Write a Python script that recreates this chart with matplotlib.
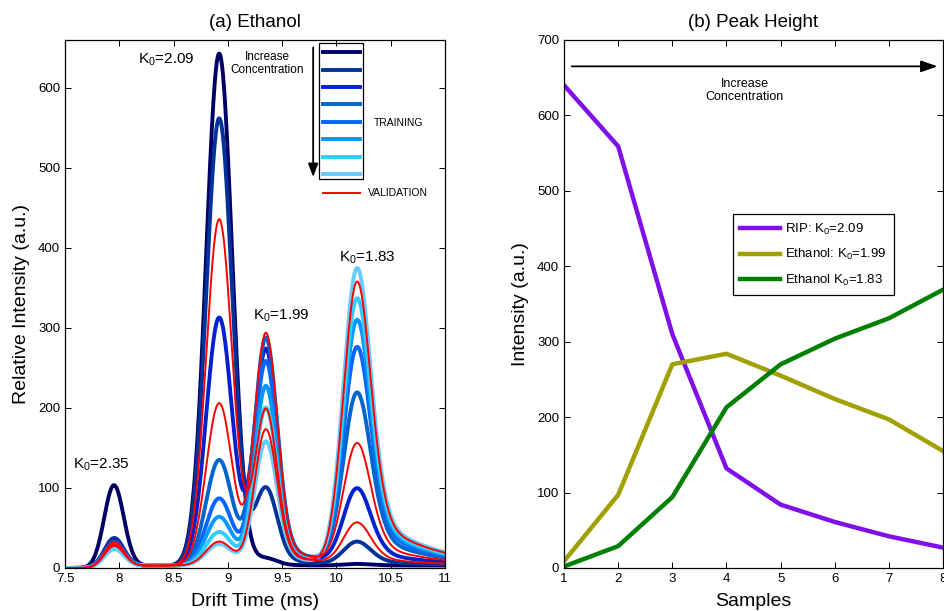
import numpy as np
import matplotlib
matplotlib.use('Agg')
import matplotlib.pyplot as plt
from matplotlib.patches import Rectangle
from matplotlib.lines import Line2D
from matplotlib.ticker import FormatStrFormatter

plt.rcParams['font.family'] = ['Liberation Sans', 'DejaVu Sans']
plt.rcParams['mathtext.fontset'] = 'custom'
plt.rcParams['mathtext.rm'] = 'Liberation Sans'
plt.rcParams['mathtext.it'] = 'Liberation Sans'

# peak positions (drift time, ms) of K0 = 2.35, 2.09 (RIP), 1.99, 1.83
peak_pos = [7.95, 8.92, 9.35, 10.19]

# peak heights of the 8 training spectra (samples 1..8)
samples = [1, 2, 3, 4, 5, 6, 7, 8]
train_k235 = [102, 36, 33, 31, 29, 27, 25, 22]
rip_209 = [640, 559, 310, 132, 84, 61, 42, 27]
eth_199 = [9, 97, 270, 284, 255, 224, 197, 155]
eth_183 = [2, 29, 94, 213, 270, 304, 331, 369]

# peak heights of the 3 validation spectra
val_k235 = [31, 28, 26]
val_rip = [433, 203, 30]
val_199 = [195, 290, 170]
val_183 = [52, 150, 352]

train_colors = ['#000066', '#003399', '#0022cc', '#0066cc',
                '#0066ff', '#0099ff', '#33ccff', '#66ccff']


def peak(x, h, c, sl, sr, tail=0.0, tau=0.5):
    g = np.where(x < c, np.exp(-0.5 * ((x - c) / sl) ** 2),
                 np.exp(-0.5 * ((x - c) / sr) ** 2))
    t = tail * np.exp(-(x - c) / tau) / (1 + np.exp(-(x - c - 0.2) / 0.05))
    return h * (g + t)


def spectrum(x, h235, h209, h199, h183):
    y = peak(x, h235, peak_pos[0], 0.09, 0.09)
    y += peak(x, h209, peak_pos[1], 0.12, 0.12)
    y += peak(x, h199, peak_pos[2], 0.105, 0.105, 0.15, 0.3)
    y += peak(x, h183, peak_pos[3], 0.125, 0.13, 0.23, 0.5)
    y += 3 / (1 + np.exp(-(x - 7.95) / 0.05))
    return y


drift = np.linspace(7.5, 11, 800)

fig = plt.figure(figsize=(9.44, 6.11), dpi=100)
ax1 = fig.add_axes([0.0689, 0.0704, 0.4025, 0.8642])
ax2 = fig.add_axes([0.5975, 0.0704, 0.4015, 0.8642])

for ax in (ax1, ax2):
    ax.tick_params(direction='in', top=True, right=True, labelsize=9.5,
                   length=4, width=0.7)
    for s in ax.spines.values():
        s.set_linewidth(0.9)

# ---- (a) Ethanol
for i in range(len(samples)):
    ax1.plot(drift, spectrum(drift, train_k235[i], rip_209[i], eth_199[i], eth_183[i]),
             color=train_colors[i], lw=2.8, solid_capstyle='round')
for i in range(len(val_rip)):
    ax1.plot(drift, spectrum(drift, val_k235[i], val_rip[i], val_199[i], val_183[i]),
             color='#ff0000', lw=1.4)

ax1.set_xlim(7.5, 11)
ax1.set_ylim(0, 660)
ax1.set_xticks(np.arange(7.5, 11.01, 0.5))
ax1.set_yticks(np.arange(0, 601, 100))
ax1.xaxis.set_major_formatter(FormatStrFormatter('%g'))
ax1.set_title('(a) Ethanol', fontsize=13.5, pad=9)
ax1.set_xlabel('Drift Time (ms)', fontsize=14, labelpad=6)
ax1.set_ylabel('Relative Intensity (a.u.)', fontsize=14, labelpad=6)

ax1.text(8.17, 635, 'K$_0$=2.09', fontsize=11, va='center')
ax1.text(7.57, 129, 'K$_0$=2.35', fontsize=11, va='center')
ax1.text(9.23, 315, 'K$_0$=1.99', fontsize=11, va='center')
ax1.text(10.02, 388, 'K$_0$=1.83', fontsize=11, va='center')

# hand-made legend box
ax1.add_patch(Rectangle((0.668, 0.737), 0.116, 0.257, transform=ax1.transAxes,
                        fill=False, edgecolor='black', lw=0.9))
for yy, c in zip(np.linspace(0.977, 0.746, 8), train_colors):
    ax1.add_line(Line2D([0.678, 0.775], [yy, yy], transform=ax1.transAxes,
                        color=c, lw=2.8))
ax1.add_line(Line2D([0.678, 0.775], [0.710, 0.710], transform=ax1.transAxes,
                    color='#ff0000', lw=1.4))
ax1.text(0.813, 0.843, 'TRAINING', transform=ax1.transAxes, fontsize=7.5, va='center')
ax1.text(0.797, 0.710, 'VALIDATION', transform=ax1.transAxes, fontsize=7.5, va='center')
ax1.annotate('', xy=(0.653, 0.735), xytext=(0.653, 0.991),
             xycoords='axes fraction', textcoords='axes fraction',
             arrowprops=dict(arrowstyle='-|>,head_length=0.8,head_width=0.3',
                             color='black', lw=1.3))
ax1.text(0.532, 0.955, 'Increase\nConcentration', transform=ax1.transAxes,
         fontsize=8.5, ha='center', va='center', linespacing=1.1)

# ---- (b) Peak Height
ax2.plot(samples, rip_209, color='#8010e8', lw=3.2, label='RIP: K$_0$=2.09')
ax2.plot(samples, eth_199, color='#a0a000', lw=3.2, label='Ethanol: K$_0$=1.99')
ax2.plot(samples, eth_183, color='#008000', lw=3.2, label='Ethanol K$_0$=1.83')
ax2.set_xlim(1, 8)
ax2.set_ylim(0, 700)
ax2.set_xticks(samples)
ax2.set_yticks(np.arange(0, 701, 100))
ax2.set_title('(b) Peak Height', fontsize=13.5, pad=9)
ax2.set_xlabel('Samples', fontsize=14, labelpad=6)
ax2.set_ylabel('Intensity (a.u.)', fontsize=14, labelpad=6)

leg = ax2.legend(loc='upper left', bbox_to_anchor=(0.446, 0.670), borderaxespad=0,
                 fontsize=9.5, handlelength=3.0, handletextpad=0.4,
                 labelspacing=0.8, fancybox=False, framealpha=1,
                 edgecolor='black', borderpad=0.55)
leg.get_frame().set_linewidth(0.9)

ax2.annotate('', xy=(7.95, 665), xytext=(1.09, 665),
             arrowprops=dict(arrowstyle='-|>,head_length=1.0,head_width=0.35',
                             color='black', lw=1.3))
ax2.text(4.34, 633, 'Increase\nConcentration', fontsize=9, ha='center',
         va='center', linespacing=1.1)

fig.savefig('out.png', dpi=100)
